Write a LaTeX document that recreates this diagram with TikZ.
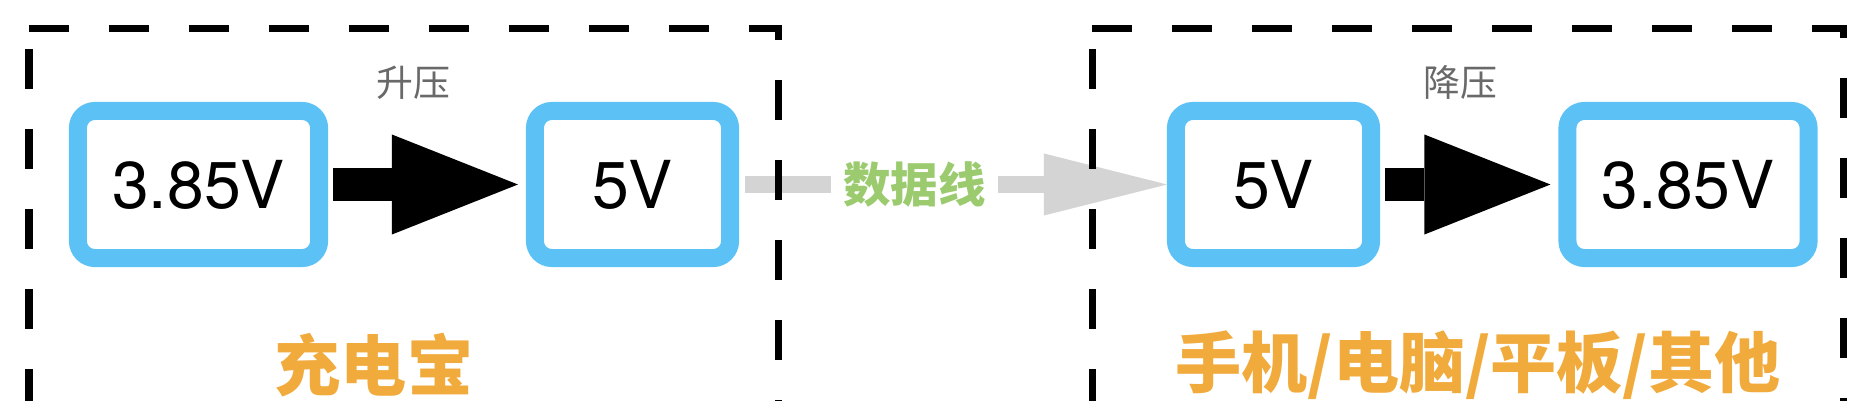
\documentclass[tikz,border=0pt]{standalone}
\usepackage{fontspec}
\setmainfont{TeX Gyre Heros}
\newfontfamily\cjk{Noto Sans CJK SC}
\usetikzlibrary{arrows.meta}
\definecolor{boxblue}{RGB}{92,194,245}
\definecolor{labelorange}{RGB}{241,170,60}
\definecolor{cablegreen}{RGB}{155,203,110}
\definecolor{cablegray}{RGB}{212,212,212}
\definecolor{notegray}{RGB}{105,105,105}
\tikzset{
	voltbox/.style={draw=boxblue, line width=0.18cm, rounded corners=0.17cm, minimum height=1.47cm, inner sep=0pt, font=\fontsize{18.8}{20}\selectfont},
	powerarrow/.style={line width=0.33cm, -{Triangle[length=1.26cm, width=1cm, line width=0pt]}, shorten <=0.05cm, shorten >=0.08cm},
	cablearrow/.style={draw=cablegray, line width=0.17cm, -{Triangle[length=1.23cm, width=0.62cm, line width=0pt]}, shorten <=0.06cm},
	groupline/.style={dash pattern=on 0.4cm off 0.4cm, line width=0.07cm},
	grouplabel/.style={text=labelorange, font=\cjk\bfseries\fontsize{18.8}{20}\selectfont},
	notelabel/.style={text=notegray, font=\cjk\fontsize{10.5}{12}\selectfont},
}

\begin{document}
\begin{tikzpicture}[x=0.01cm, y=-0.01cm]
	\path[use as bounding box, fill=white] (0,0) rectangle (1870,400);
	
	\node[voltbox, minimum width=2.41cm] (bankin) at (198.5,184.5) {3.85V};
	\node[voltbox, minimum width=1.95cm] (bankout) at (632.5,184.5) {5V};
	\node[voltbox, minimum width=1.95cm] (devin) at (1273.5,184.5) {5V};
	\node[voltbox, minimum width=2.41cm] (devout) at (1688,184.5) {3.85V};
	
	\draw[powerarrow] (bankin) -- (bankout) node[notelabel, pos=0.43, yshift=1.015cm] (boost) {升压};
	\draw[powerarrow] (devin) -- (devout) node[notelabel, pos=0.45, yshift=1.015cm] (buck) {降压};
	\draw[cablearrow] (bankout) -- (devin) node[pos=0.41, fill=white, inner xsep=0.12cm, text=cablegreen, font=\cjk\bfseries\fontsize{13.5}{15}\selectfont] (cable) {数据线};
	
	% dashed groups
	\draw[groupline] (29,28.5) -- (778,28.5) -- (778,430.25) -- (29,430.25) -- cycle;
	\draw[groupline] (1092,28.5) -- (1843,28.5) -- (1843,428.25) -- (1092,428.25) -- cycle;
	
	\node[grouplabel] (banklabel) at (374,365) {充电宝};
	\node[grouplabel] (devlabel) at (1478,365) {手机/电脑/平板/其他};
\end{tikzpicture}
\end{document}
